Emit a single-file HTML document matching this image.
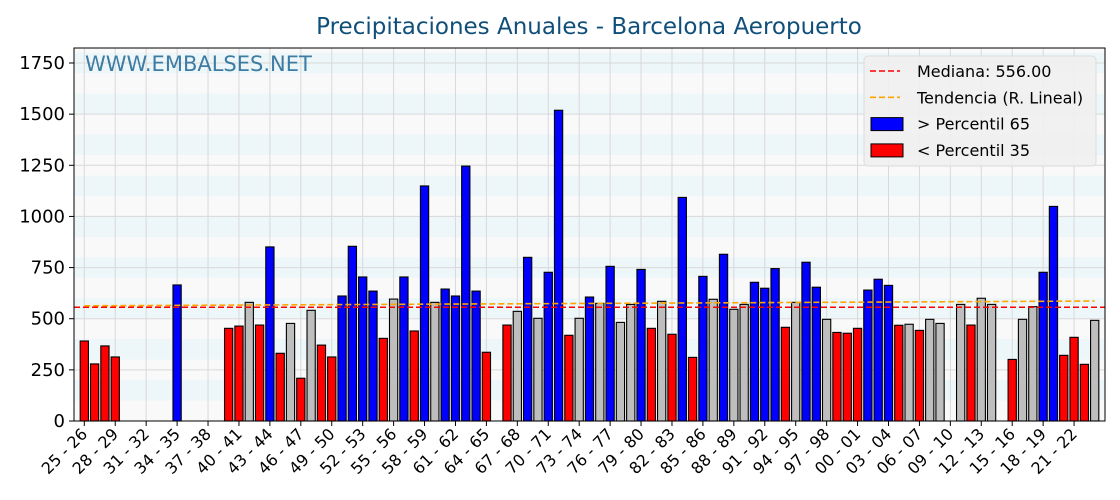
<!DOCTYPE html>
<html><head><meta charset="utf-8"><style>
body{margin:0;background:#fff;}
svg{display:block;font-family:"DejaVu Sans","Liberation Sans",sans-serif;}
</style></head><body>
<svg id="chart" width="1120" height="500"></svg>
<script>
const startYear = 1925;
const values = [391,279,367,313,null,null,null,null,null,665,null,null,null,null,453,464,580,469,851,331,477,209,541,371,313,611,854,704,635,404,596,704,440,1149,580,645,611,1246,635,336,null,469,536,800,502,727,1519,419,502,606,575,756,482,570,741,453,585,424,1093,311,707,595,815,546,570,678,649,745,458,580,776,654,497,433,429,453,640,693,663,468,473,443,497,477,null,570,469,600,570,null,301,497,559,727,1049,321,409,277,492];
const categories = values.map((v,i)=>{const a=(startYear+i)%100,b=(startYear+i+1)%100;return String(a).padStart(2,'0')+' - '+String(b).padStart(2,'0');});
const yTicks = [0,250,500,750,1000,1250,1500,1750];
const median = 556;
const p65 = 600, p35 = 470;

const NS='http://www.w3.org/2000/svg';
const svg=document.getElementById('chart');
const L=74,R=1105,T=48,B=421;
const yMax=(B-T)/0.20457;
const Y=v=>B-v*0.20457;
const bw=(R-L)/(values.length+1);
const X=i=>L+(i+1)*bw;
function mk(tag,attrs,parent){const e=document.createElementNS(NS,tag);for(const k in attrs)e.setAttribute(k,attrs[k]);(parent||svg).appendChild(e);return e;}

// background bands
mk('rect',{x:L,y:T,width:R-L,height:B-T,fill:'#f9f9f9'});
for(let v=100;v<yMax;v+=200){const y2=Y(Math.min(v+100,yMax));const r=mk('rect',{x:L,y:y2,width:R-L,height:Y(v)-y2,fill:'#edf6f9'});

}
// grid
for(let i=0;i<values.length;i+=3){const l=mk('line',{x1:X(i),x2:X(i),y1:T,y2:B,stroke:'#d9d9d9','stroke-width':1});

}
yTicks.forEach(t=>{const l=mk('line',{x1:L,x2:R,y1:Y(t),y2:Y(t),stroke:'#d9d9d9','stroke-width':1});

});

// watermark
const wm=mk('text',{x:85,y:71,fill:'#2a6f9a','font-size':21,opacity:0.9});wm.textContent='WWW.EMBALSES.NET';



// bars
values.forEach((v,i)=>{if(v==null)return;
const c=v>p65?'#0000ff':(v<p35?'#ff0000':'#bebebe');
const r=mk('rect',{x:X(i)-bw*0.4,y:Y(v),width:bw*0.8,height:Y(0)-Y(v),fill:c,stroke:'#000','stroke-width':1.1});

});

// median line
const ml=mk('line',{x1:L,x2:R,y1:Y(median),y2:Y(median),stroke:'#ff0000','stroke-width':1.6,'stroke-dasharray':'6,3'});


// trend line (linear regression)
let n=0,sx=0,sy=0,sxx=0,sxy=0;values.forEach((v,i)=>{if(v==null)return;n++;sx+=i;sy+=v;sxx+=i*i;sxy+=i*v;});
const slope=(n*sxy-sx*sy)/(n*sxx-sx*sx),icpt=(sy-slope*sx)/n;
const tl=mk('line',{x1:X(0),x2:X(values.length-1),y1:Y(icpt),y2:Y(icpt+slope*(values.length-1)),stroke:'#ffa500','stroke-width':1.6,'stroke-dasharray':'6,3'});



// frame
const fr=mk('rect',{x:L,y:T,width:R-L,height:B-T,fill:'none',stroke:'#000','stroke-width':1});



// y ticks
yTicks.forEach(t=>{mk('line',{x1:L-5,x2:L,y1:Y(t),y2:Y(t),stroke:'#000'});
const tx=mk('text',{x:L-9,y:Y(t)+6,'text-anchor':'end','font-size':18,fill:'#000'});tx.textContent=t;

});
// x ticks
for(let i=0;i<values.length;i+=3){mk('line',{x1:X(i),x2:X(i),y1:B,y2:B+5,stroke:'#000'});
const tx=mk('text',{x:X(i)+4,y:B+14,'text-anchor':'end','font-size':16,fill:'#000',transform:`rotate(-45 ${X(i)+4} ${B+14})`});tx.textContent=categories[i];

}

// title
const ti=mk('text',{x:589,y:34,'text-anchor':'middle','font-size':23,fill:'#0f4f7a'});ti.textContent='Precipitaciones Anuales - Barcelona Aeropuerto';



// legend
const lg=mk('g',{});


mk('rect',{x:864,y:56,width:232,height:110,rx:4,fill:'#f0f0f0',stroke:'#dcdcdc','fill-opacity':0.9},lg);
const items=[['line','#ff0000','Mediana: 556.00'],['line','#ffa500','Tendencia (R. Lineal)'],['box','#0000ff',' > Percentil 65'],['box','#ff0000',' < Percentil 35']];
items.forEach((it,k)=>{const y=71+k*26.3;const g=mk('g',{},lg);


if(it[0]==='line')mk('line',{x1:870,x2:900,y1:y,y2:y,stroke:it[1],'stroke-width':1.6,'stroke-dasharray':'6,3'},g);
else mk('rect',{x:871,y:y-6,width:32,height:13,fill:it[1],stroke:'#000','stroke-width':1},g);
const t=mk('text',{x:917,y:y+6,'font-size':16,fill:'#000','xml:space':'preserve'},g);t.textContent=it[2];});
</script>
</body></html>
